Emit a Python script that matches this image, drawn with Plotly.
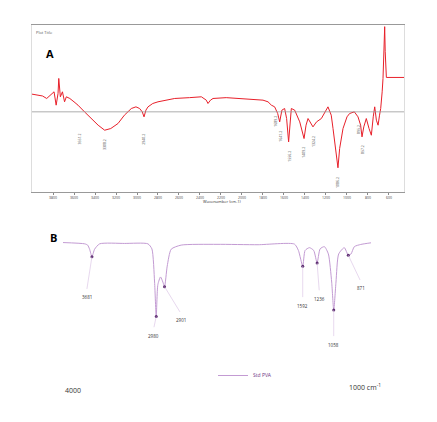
import plotly.graph_objects as go

# Panel A: spectrum (wavenumber, transmittance %)
a_wn = [4000, 3960, 3900, 3860, 3820, 3790, 3770, 3752, 3745, 3730, 3710, 3690, 3673, 3640, 3600, 3562,
        3500, 3435, 3370, 3308, 3250, 3181, 3120, 3054, 3010, 2975, 2950, 2933, 2915, 2895, 2850, 2800,
        2700, 2641, 2500, 2387, 2340, 2324, 2300, 2276, 2150, 2006, 1900, 1800, 1752, 1720, 1689, 1660,
        1641, 1620, 1594, 1575, 1556, 1540, 1530, 1498, 1450, 1409, 1390, 1371, 1324, 1290, 1244, 1181,
        1150, 1133, 1100, 1086, 1070, 1038, 1000, 975, 930, 895, 870, 857, 840, 816, 790, 768, 750, 736,
        720, 704, 690, 679, 665, 657, 648, 641, 636, 631, 625, 457]
a_tr = [58.6, 58, 57.5, 56, 58, 60, 52, 59, 68, 57, 60, 54, 57, 56, 54, 52,
        48, 44, 40, 37, 38, 41, 46, 50, 51, 50, 48, 45, 49, 51, 53, 54,
        55, 56, 56.5, 57, 55, 53, 55, 56, 56.5, 56, 55.5, 55, 54, 52, 51, 47,
        42, 49, 50, 44, 30, 46, 50, 49, 42, 32, 40, 44, 39, 42, 44, 51,
        46, 38, 22, 14.5, 26, 38, 45, 47, 48, 45, 40, 33, 39, 44, 38, 34, 45, 51,
        43, 40, 46, 50, 60, 68, 85, 99, 84, 70, 68.6, 68.6]

# labelled bands in panel A
a_peaks = [3551, 3308, 2940, 1689, 1641, 1556, 1409, 1324, 1086, 895, 857]

# Panel B: Std PVA spectrum (wavenumber, transmittance %)
b_wn = [4000, 3789, 3760, 3741, 3718, 3692, 3643, 3400, 3173, 3134, 3108, 3092, 3076, 3050, 3027, 3011,
        2985, 2946, 2849, 2500, 2100, 1746, 1707, 1665, 1642, 1600, 1558, 1525, 1496, 1454, 1415, 1383,
        1363, 1341, 1315, 1260, 1221, 1195, 1162, 1100, 1000]
b_tr = [100, 99, 98, 94.8, 88.9, 94.8, 99, 99.3, 99, 95, 69, 42, 67, 73, 69, 65.4,
        81.5, 94.8, 98, 98.6, 98.3, 98.8, 93.8, 81.5, 93.8, 96, 93.8, 84, 95, 96.8, 91, 69,
        47, 69, 91, 96, 90, 91, 96.8, 98.5, 99.8]
b_peak_wn = [3718, 3092, 3011, 1665, 1525, 1363, 1221]
b_peak_tr = [88.9, 42, 65.4, 81.5, 84, 47, 90]
b_labels = ["3681", "2980", "2901", "1592", "1236", "1058", "871"]
b_label_wn = [3770, 3118, 2849, 1665, 1503, 1363, 1097]
b_label_tr = [62, 32, 44, 55.6, 61, 25, 69]

fig = go.Figure()
fig.add_trace(go.Scatter(x=a_wn, y=a_tr, mode="lines", line=dict(color="#e8202a", width=1),
                         xaxis="x", yaxis="y", showlegend=False))
fig.add_trace(go.Scatter(x=b_wn, y=b_tr, mode="lines", line=dict(color="#c39bd3", width=1, shape="spline", smoothing=0.6),
                         xaxis="x2", yaxis="y2", name="Std PVA"))
fig.add_trace(go.Scatter(x=b_peak_wn, y=b_peak_tr, mode="markers", marker=dict(color="#5b2c6f", size=3),
                         xaxis="x2", yaxis="y2", showlegend=False))

ann = [
    dict(text="<b>A</b>", x=36 / 437, y=1 - 36 / 422, xref="paper", yref="paper", showarrow=False,
         font=dict(size=11, color="black")),
    dict(text="<b>B</b>", x=40 / 437, y=1 - 229 / 422, xref="paper", yref="paper", showarrow=False,
         font=dict(size=11, color="black")),
    dict(text="Plot Title", x=26 / 437, y=1 - 20 / 422, xref="paper", yref="paper", showarrow=False,
         xanchor="left", font=dict(size=4, color="#555")),
    dict(text="Wavenumber (cm-1)", x=0.49, y=1 - 193 / 422, xref="paper", yref="paper", showarrow=False,
         font=dict(size=4, color="#333")),
    dict(text="4000", x=55 / 437, y=1 - 389 / 422, xref="paper", yref="paper", showarrow=False,
         font=dict(size=7, color="#333")),
    dict(text="1000 cm<sup>-1</sup>", x=375 / 437, y=1 - 386 / 422, xref="paper", yref="paper",
         showarrow=False, font=dict(size=7, color="#333")),
    dict(text="2926", x=2995, y=103, xref="x2", yref="y2", showarrow=False, font=dict(size=4.5, color="#333")),
    dict(text="1413", x=1525, y=103, xref="x2", yref="y2", showarrow=False, font=dict(size=4.5, color="#333")),
]
for w in a_peaks:
    t = min(v for x, v in zip(a_wn, a_tr) if abs(x - w) < 1) if w in a_wn else 40
    ann.append(dict(text=str(w) + ".2", x=w, y=t - 4, xref="x", yref="y", showarrow=False, textangle=-90,
                    yanchor="top", font=dict(size=3.5, color="#444")))
for lab, lw, lt, pw, pt in zip(b_labels, b_label_wn, b_label_tr, b_peak_wn, b_peak_tr):
    ann.append(dict(text=lab, x=lw, y=lt - 5, xref="x2", yref="y2", showarrow=False,
                    font=dict(size=4.5, color="#333")))
    ann.append(dict(x=pw, y=pt, ax=lw, ay=lt, xref="x2", yref="y2", axref="x2", ayref="y2",
                    showarrow=True, arrowhead=0, arrowwidth=0.6, arrowcolor="#d7bde2", text=" ",
                    font=dict(size=1)))

fig.update_layout(
    width=437, height=422, margin=dict(l=0, r=0, t=0, b=0),
    paper_bgcolor="white", plot_bgcolor="white",
    xaxis=dict(domain=[24 / 437, 396 / 437], range=[4000, 457], tickvals=list(range(3800, 500, -200)),
               tickfont=dict(size=3.5, color="#444"), ticks="outside", ticklen=2, tickcolor="#888",
               showgrid=False, zeroline=False, showline=True, linecolor="#999", linewidth=0.5, mirror=True),
    yaxis=dict(domain=[1 - 184 / 422, 1 - 17 / 422], range=[0, 100], showticklabels=False, showgrid=False,
               zeroline=False, showline=True, linecolor="#ddd", linewidth=0.5, mirror=True),
    xaxis2=dict(domain=[55 / 437, 363 / 437], range=[4000, 1000], visible=False),
    yaxis2=dict(domain=[1 - 362 / 422, 1 - 232 / 422], range=[0, 102], visible=False, anchor="x2"),
    shapes=[dict(type="line", xref="x", yref="y", x0=4000, x1=457, y0=48, y1=48,
                 line=dict(color="#999", width=0.8))],
    legend=dict(x=205 / 437, y=1 - 353 / 422, xanchor="left", yanchor="top", font=dict(size=5, color="#6c3483"),
                bgcolor="rgba(0,0,0,0)"),
    annotations=ann,
)
fig.write_html("out.html")
